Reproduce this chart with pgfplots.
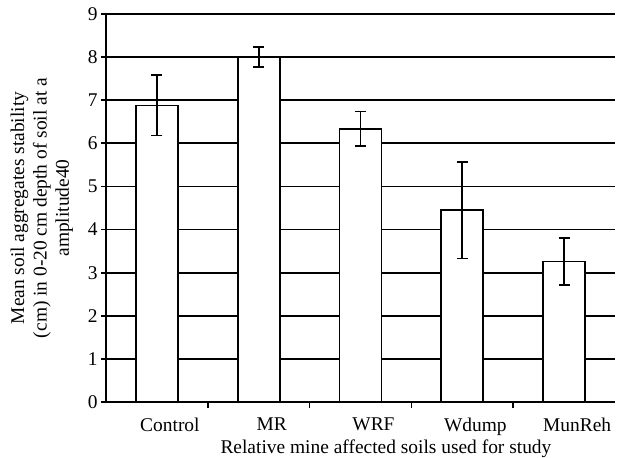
\documentclass[border=0pt]{standalone}
\usepackage{fontspec}
\setmainfont{Liberation Serif}
\usepackage{pgfplots}
\pgfplotsset{compat=1.18}

\begin{document}
\begin{tikzpicture}
\useasboundingbox (-106bp,-56bp) rectangle (511bp,402bp);
\begin{axis}[
  at={(0,0)}, anchor=south west,
  scale only axis,
  width=509bp, height=388bp,
  xmin=-0.5, xmax=4.5,
  ymin=0, ymax=9,
  ytick={0,1,...,9},
  xtick={0,1,2,3,4},
  xticklabels={Control,MR,WRF,Wdump,MunReh},
  minor xtick={0.5,1.5,2.5,3.5},
  major x tick style={draw=none},
  tick align=outside,
  major tick length=5bp,
  minor tick length=6bp,
  axis x line*=bottom,
  axis y line*=left,
  axis line style={line width=1.7pt},
  every tick/.style={black, line width=1.7pt},
  ymajorgrids,
  major grid style={black, line width=1.7pt},
  font=\fontsize{19.5}{22.5}\selectfont,
  /pgf/number format/assume math mode=true,
  xticklabel style={xshift=13bp, yshift=-7bp},
  xlabel={Relative mine affected soils used for study},
  xlabel style={at={(axis description cs:0.55,0)}, anchor=center, yshift=-46.5bp},
  ylabel={Mean soil aggregates stability\\(cm) in 0-20 cm depth of soil at a\\amplitude40},
  ylabel style={at={(axis description cs:-0.126,0.5)}, anchor=center, align=center},
]
\addplot[ybar, bar width=42bp, fill=white, draw=black, line width=1.7pt,
  error bars/.cd, y dir=both, y explicit,
  error bar style={line width=1.7pt, black},
  error mark options={rotate=90, mark size=5.5bp, line width=1.7pt, black}]
  table[x=x, y=y, y error=e] {
x y e
0 6.88 0.70
1 8.00 0.23
2 6.34 0.40
3 4.45 1.12
4 3.26 0.55
};
\end{axis}
\end{tikzpicture}
\end{document}
